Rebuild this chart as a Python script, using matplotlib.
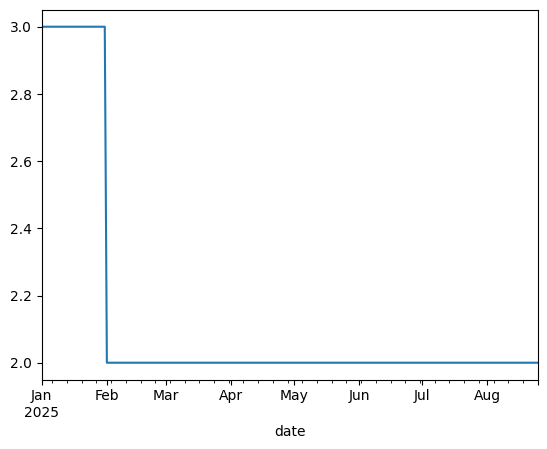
import matplotlib
matplotlib.use("Agg")
import matplotlib.pyplot as plt
import pandas as pd

# level changes
change_dates = ["2025-01-01", "2025-02-01"]
levels = [3, 2]
end_date = "2025-08-25"

# daily series, holding each level until the next change
idx = pd.date_range(change_dates[0], end_date, freq="D", name="date")
s = pd.Series(levels, index=pd.to_datetime(change_dates)).reindex(idx).ffill()

fig, ax = plt.subplots(figsize=(6.4, 4.8))
s.plot(ax=ax)
ax.set_xlabel("date")

fig.savefig("out.png", dpi=100, bbox_inches="tight")
